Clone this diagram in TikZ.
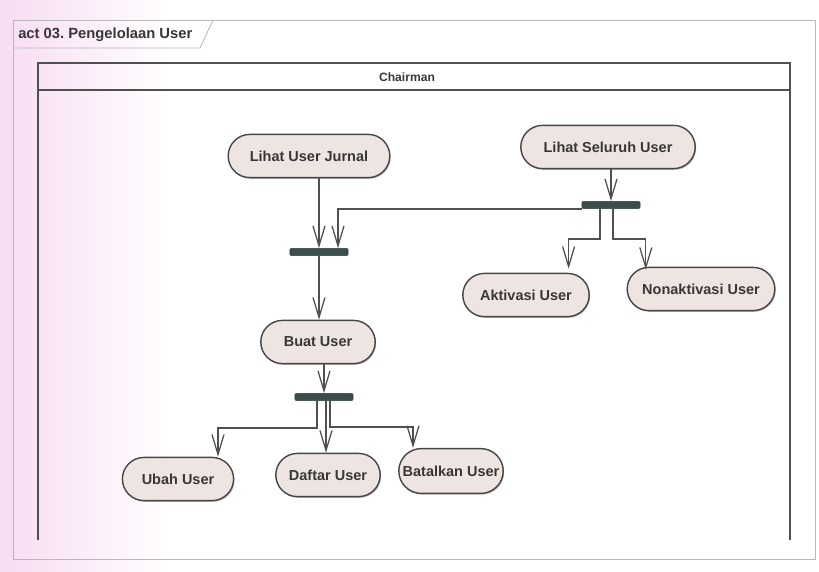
\documentclass[tikz,border=0pt]{standalone}
\usepackage{fontspec}
\setmainfont{Liberation Sans}
\usepackage{xcolor}
\usepackage{tikz}
\usetikzlibrary{shapes.misc, arrows.meta, calc, shadows}
\frenchspacing
\definecolor{pinkbg}{RGB}{247, 220, 243}
\definecolor{framegray}{RGB}{185, 185, 185}
\definecolor{lanegray}{RGB}{80, 80, 80}
\definecolor{edgegray}{RGB}{70, 70, 70}
\definecolor{actfill}{RGB}{238, 228, 225}
\definecolor{textgray}{RGB}{55, 55, 55}
\definecolor{barcolor}{RGB}{60, 78, 75}
\tikzset{
    activity/.style = {rounded rectangle, draw=edgegray, fill=actfill, line width=1pt, minimum height=1.08cm, inner xsep=2pt, text=textgray, font=\fontsize{10.3}{12}\selectfont\bfseries, drop shadow={shadow xshift=0.7pt, shadow yshift=-0.9pt, fill=black, opacity=0.25}},
    forkbar/.style = {rectangle, fill=barcolor, draw=barcolor!80!black, minimum width=1.45cm, minimum height=0.18cm, inner sep=0pt, rounded corners=0.8pt},
    arrow/.style = {draw=lanegray, line width=0.9pt, -{Straight Barb[length=5mm, width=3mm, line width=0.9pt]}},
    label/.style = {text=textgray, font=\bfseries, inner sep=0pt}
}
\begin{document}
\begin{tikzpicture}[x=0.025cm, y=-0.025cm]
% Background
\useasboundingbox (0,0) rectangle (819,571);
\fill[white] (0,0) rectangle (819,571);
\shade[left color=pinkbg, right color=white] (0,0) rectangle (170,571);

% Frame and partition
\draw[framegray, line width=0.6pt] (13,20) rectangle (815,559);
\draw[framegray, line width=0.6pt] (13,48) -- (200,48) -- (213,20);
\node (title) [label, anchor=west, font=\fontsize{10.5}{12}\selectfont\bfseries] at (18,35) {act 03. Pengelolaan User};
\draw[lanegray, line width=0.9pt] (38,540) -- (38,63) -- (790,63) -- (790,540);
\draw[lanegray, line width=0.9pt] (38,90) -- (790,90);
\node (lane) [label, font=\fontsize{8.6}{11}\selectfont\bfseries] at (407,77) {Chairman};

% Nodes
\node (lihatjurnal) [activity, minimum width=4.18cm] at (309,156) {Lihat User Jurnal};
\node (lihatseluruh) [activity, minimum width=4.5cm] at (608,147) {Lihat Seluruh User};
\node (fork1) [forkbar] at (611,205) {};
\node (join) [forkbar] at (319,252) {};
\node (aktivasi) [activity, minimum width=3.3cm] at (526,295) {Aktivasi User};
\node (nonaktivasi) [activity, minimum width=3.83cm] at (701,289) {Nonaktivasi User};
\node (buatuser) [activity, minimum width=3cm] at (318,342) {Buat User};
\node (fork2) [forkbar] at (324,397) {};
\node (ubah) [activity, minimum width=2.92cm] at (178,479) {Ubah User};
\node (daftar) [activity, minimum width=2.75cm] at (328,475) {Daftar User};
\node (batalkan) [activity, minimum width=2.75cm, minimum height=1.12cm] at (451,471) {Batalkan User};

% Arrows
\draw [arrow] (lihatjurnal.south -| join.north) -- (join.north);
\draw [arrow] (lihatseluruh.south -| fork1.north) -- (fork1.north);
\draw [arrow] (fork1.south west) -| ($(join.north)+(19,0)$);
\draw [arrow] ($(fork1.south)+(-11,0)$) -- ++(0,30) -| ($(aktivasi.north east)+(1,-4)$);
\draw [arrow] ($(fork1.south)+(2,0)$) -- ++(0,30) -| ($(nonaktivasi.north west)+(-3,3)$);
\draw [arrow] (join.south) -- (join.south |- buatuser.north);
\draw [arrow] (buatuser.south -| fork2.north) -- (fork2.north);
\draw [arrow] ($(fork2.south)+(-7,0)$) -- ++(0,27) -| ($(ubah.north)+(40,0)$);
\draw [arrow] ($(fork2.south)+(2,0)$) -- ($(daftar.north)+(-2,0)$);
\draw [arrow] ($(fork2.south)+(6,0)$) -- ++(0,26) -| ($(batalkan.north)+(-38,0)$);

\end{tikzpicture}
\end{document}
